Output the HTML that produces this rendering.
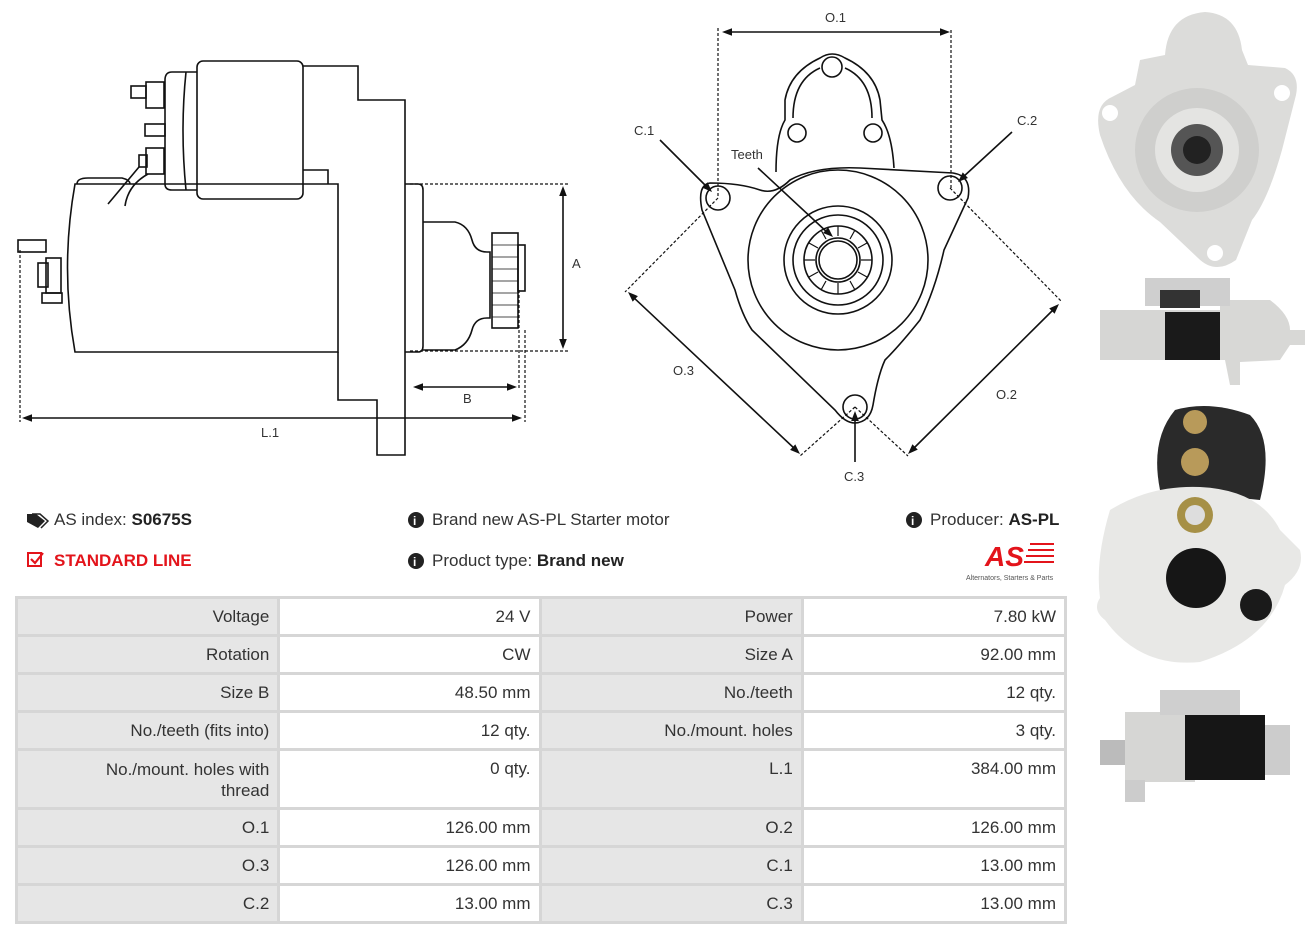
<!DOCTYPE html>
<html><head><meta charset="utf-8"><style>
body{margin:0;width:1316px;height:936px;background:#fff;position:relative;overflow:hidden;font-family:"Liberation Sans",sans-serif;color:#333}
.t{position:absolute;font-size:17px;white-space:nowrap}
table{position:absolute;left:15px;top:596px;width:1052px;border-collapse:collapse;font-size:17px;color:#333}
td{border:3px solid #d6d6d6;text-align:right;padding:8px 8px 0 8px;vertical-align:top;height:27px}
td.g{background:#e6e6e6}
svg{position:absolute;left:0;top:0}
</style></head><body>
<svg width="1316" height="936" viewBox="0 0 1316 936" fill="none" stroke="#111" stroke-width="1.6" font-family="Liberation Sans, sans-serif">
<defs><path id="h" d="M0,0 L-10,-3.8 L-10,3.8Z" fill="#111" stroke="none"/></defs>
<!-- side view -->
<path d="M75,184 L338,184 L338,352 L75,352 Q60,268 75,184Z"/>
<path d="M303,66 L358,66 L358,100 L405,100 L405,455 L377,455 L377,400 L338,400 L338,352"/>
<path d="M303,170 L328,170 L328,184"/>
<rect x="197" y="61" width="106" height="138" rx="6"/>
<path d="M197,72 L172,72 Q165,72 165,80 L165,184 Q165,190 172,190 L197,190"/>
<path d="M186,72 Q180,130 186,190"/>
<rect x="146" y="82" width="18" height="26"/><rect x="131" y="86" width="15" height="12"/>
<rect x="145" y="124" width="20" height="12"/>
<rect x="146" y="148" width="18" height="26"/><rect x="139" y="155" width="8" height="12"/>
<path d="M139,167 L108,204 M148,174 Q128,185 125,206"/>
<path d="M77,184 Q77,178 88,178 L122,178 Q130,180 130,184"/>
<path d="M405,184 L418,184 Q423,184 423,190 L423,346 Q423,352 418,352 L405,352"/>
<path d="M423,222 L455,222 Q468,225 472,240 Q475,252 487,252 L490,252 L490,318 L487,318 Q475,318 472,330 Q468,345 455,350 L423,350"/>
<rect x="492" y="233" width="26" height="95"/><rect x="518" y="245" width="7" height="46"/>
<path d="M492,245h26M492,257h26M492,269h26M492,281h26M492,293h26M492,305h26M492,317h26" stroke-width="0.8"/>
<rect x="46" y="258" width="15" height="35"/><rect x="38" y="263" width="10" height="24"/>
<rect x="18" y="240" width="28" height="12"/><rect x="42" y="293" width="20" height="10"/>
<g stroke-dasharray="3,2" stroke-width="1.2"><path d="M410,184H568M410,351H568M20,250V422M525,330V422M519,290V388"/></g>
<path d="M563,190V345M417,387H513M26,418H518"/>
<use href="#h" transform="translate(563,186) rotate(-90)"/><use href="#h" transform="translate(563,349) rotate(90)"/>
<use href="#h" transform="translate(413,387) rotate(180)"/><use href="#h" transform="translate(517,387)"/>
<use href="#h" transform="translate(22,418) rotate(180)"/><use href="#h" transform="translate(522,418)"/>
<g fill="#333" stroke="none" font-size="13"><text x="572" y="268">A</text><text x="463" y="403">B</text><text x="261" y="437">L.1</text></g>
<!-- front view -->
<path d="M776,172 Q776,135 785,120 L785,100 Q790,72 820,58 Q832,50 845,58 Q875,72 880,100 L882,120 Q892,135 894,168"/>
<path d="M793,118 Q793,80 820,68 M845,68 Q872,80 872,118"/>
<circle cx="832" cy="67" r="10"/><circle cx="797" cy="133" r="9"/><circle cx="873" cy="133" r="9"/>
<path d="M710,183 Q740,183 760,190 Q775,195 790,180 Q815,166 860,168 L953,173 Q972,176 968,198 L944,250 Q935,290 920,320 Q900,345 885,360 Q878,375 873,405 Q870,422 855,423 Q845,423 835,410 L752,330 Q742,315 735,290 L702,210 Q697,185 710,183Z"/>
<circle cx="718" cy="198" r="12"/><circle cx="950" cy="188" r="12"/><circle cx="855" cy="407" r="12"/>
<circle cx="838" cy="260" r="90"/><circle cx="838" cy="260" r="54"/><circle cx="838" cy="260" r="45"/><circle cx="838" cy="260" r="34"/><circle cx="838" cy="260" r="22"/><circle cx="838" cy="260" r="19"/>
<g stroke-width="1.2"><path d="M838,226V236M855,230L850,239M867,243L858,248M872,260H861M867,277L858,272M855,290L850,281M838,294V283M821,290L826,281M809,277L818,272M804,260H815M809,243L818,248M821,230L826,239"/></g>
<g stroke-dasharray="3,2" stroke-width="1.2"><path d="M718,28V198M951,30V190M718,198L625,292M950,188L1062,302M855,407L800,456M855,407L908,456"/></g>
<path d="M726,32H946M632,296L796,450M1055,308L912,450"/>
<path d="M660,140L708,188M1012,132L962,178M758,168L829,234M855,462V416"/>
<use href="#h" transform="translate(722,32) rotate(180)"/><use href="#h" transform="translate(950,32)"/>
<use href="#h" transform="translate(628,292) rotate(223.2)"/><use href="#h" transform="translate(800,454) rotate(43.2)"/>
<use href="#h" transform="translate(1059,304) rotate(-44.8)"/><use href="#h" transform="translate(908,454) rotate(135.2)"/>
<use href="#h" transform="translate(712,192) rotate(45)"/><use href="#h" transform="translate(958,182) rotate(137.2)"/>
<use href="#h" transform="translate(833,237) rotate(42.6)"/><use href="#h" transform="translate(855,411) rotate(-90)"/>
<g fill="#333" stroke="none" font-size="13"><text x="825" y="22">O.1</text><text x="634" y="135">C.1</text><text x="1017" y="125">C.2</text><text x="731" y="159">Teeth</text><text x="673" y="375">O.3</text><text x="996" y="399">O.2</text><text x="844" y="481">C.3</text></g>
<!-- photos -->
<g stroke="none">
<path d="M1165,55 Q1168,15 1205,12 Q1238,14 1242,50 L1248,65 L1285,68 Q1300,75 1296,95 L1282,150 Q1268,200 1252,220 Q1242,245 1236,260 Q1215,275 1198,258 L1160,222 Q1120,195 1100,135 Q1093,105 1112,97 L1135,85 L1140,60 Z" fill="#dcdcda"/>
<circle cx="1110" cy="113" r="8" fill="#fff"/><circle cx="1282" cy="93" r="8" fill="#fff"/><circle cx="1215" cy="253" r="8" fill="#fff"/>
<circle cx="1197" cy="150" r="62" fill="#cfcfcd"/><circle cx="1197" cy="150" r="42" fill="#e4e4e2"/><circle cx="1197" cy="150" r="26" fill="#555"/><circle cx="1197" cy="150" r="14" fill="#222"/>
<rect x="1100" y="310" width="120" height="50" fill="#d6d6d4"/><rect x="1165" y="312" width="55" height="48" fill="#1a1a1a"/><path d="M1220,300 L1270,300 Q1290,315 1290,330 L1305,330 L1305,345 L1290,345 L1280,360 L1240,362 L1240,385 L1230,385 L1225,360 L1220,360Z" fill="#d8d8d6"/><rect x="1145" y="278" width="85" height="28" fill="#cfcfcf"/><rect x="1160" y="290" width="40" height="18" fill="#333"/>
<path d="M1175,410 Q1210,400 1250,415 Q1275,440 1260,500 L1160,490 Q1150,440 1175,410Z" fill="#2a2a2a"/>
<circle cx="1195" cy="462" r="14" fill="#b89a5a"/><circle cx="1195" cy="422" r="12" fill="#b89a5a"/>
<path d="M1110,510 Q1150,485 1200,487 Q1260,490 1280,530 L1300,550 Q1305,570 1285,585 Q1270,640 1200,662 Q1140,668 1105,620 Q1092,610 1100,598 Q1095,560 1110,510Z" fill="#e8e8e6"/>
<circle cx="1195" cy="515" r="18" fill="#a69046"/><circle cx="1195" cy="515" r="10" fill="#ddd"/><circle cx="1196" cy="578" r="30" fill="#161616"/><circle cx="1256" cy="605" r="16" fill="#1a1a1a"/>
<rect x="1125" y="712" width="70" height="70" fill="#d6d6d4"/><rect x="1185" y="715" width="80" height="65" fill="#161616"/><rect x="1265" y="725" width="25" height="50" fill="#ccc"/><rect x="1160" y="690" width="80" height="25" fill="#cfcfcf"/><rect x="1100" y="740" width="25" height="25" fill="#bbb"/><rect x="1125" y="780" width="20" height="22" fill="#ccc"/>
</g>
<!-- headers -->
<path d="M27,514 L36,514 L45,521 L38,528 L27,522Z" fill="#222" stroke="none"/><path d="M32,514 L40,514 L48,521 L41,528" stroke="#222" stroke-width="1.5"/>
<rect x="28" y="553" width="13" height="13" stroke="#e3141b" stroke-width="2"/><path d="M31,559 L35,563 L43,553" stroke="#e3141b" stroke-width="2.2"/>
<g fill="#222" stroke="none"><circle cx="416" cy="520" r="8"/><circle cx="416" cy="561" r="8"/><circle cx="914" cy="520" r="8"/></g>
<g fill="#fff" stroke="none" font-size="12" font-weight="bold"><text x="413" y="525">i</text><text x="413" y="566">i</text><text x="911" y="525">i</text></g>
<text x="985" y="566" fill="#e3141b" stroke="none" font-size="28" font-weight="bold" font-style="italic">AS</text>
<g stroke="#e3141b" stroke-width="2"><path d="M1030,544H1054M1028,550H1054M1026,556H1054M1024,562H1054"/></g>
<text x="966" y="580" fill="#555" stroke="none" font-size="7">Alternators, Starters &amp; Parts</text>
</svg>
<div class="t" style="left:54px;top:510px">AS index: <b style="color:#222">S0675S</b></div>
<div class="t" style="left:54px;top:551px;color:#e3141b;font-weight:bold">STANDARD LINE</div>
<div class="t" style="left:432px;top:510px">Brand new AS-PL Starter motor</div>
<div class="t" style="left:432px;top:551px">Product type: <b style="color:#222">Brand new</b></div>
<div class="t" style="left:930px;top:510px">Producer: <b style="color:#222">AS-PL</b></div>
<table>
<colgroup><col style="width:263px"><col style="width:262px"><col style="width:263px"><col style="width:264px"></colgroup>
<tr><td class="g">Voltage</td><td>24 V</td><td class="g">Power</td><td>7.80 kW</td></tr>
<tr><td class="g">Rotation</td><td>CW</td><td class="g">Size A</td><td>92.00 mm</td></tr>
<tr><td class="g">Size B</td><td>48.50 mm</td><td class="g">No./teeth</td><td>12 qty.</td></tr>
<tr><td class="g">No./teeth (fits into)</td><td>12 qty.</td><td class="g">No./mount. holes</td><td>3 qty.</td></tr>
<tr><td class="g" style="height:48px;line-height:21px">No./mount. holes with<br>thread</td><td>0 qty.</td><td class="g">L.1</td><td>384.00 mm</td></tr>
<tr><td class="g">O.1</td><td>126.00 mm</td><td class="g">O.2</td><td>126.00 mm</td></tr>
<tr><td class="g">O.3</td><td>126.00 mm</td><td class="g">C.1</td><td>13.00 mm</td></tr>
<tr><td class="g">C.2</td><td>13.00 mm</td><td class="g">C.3</td><td>13.00 mm</td></tr>
</table>
</body></html>
